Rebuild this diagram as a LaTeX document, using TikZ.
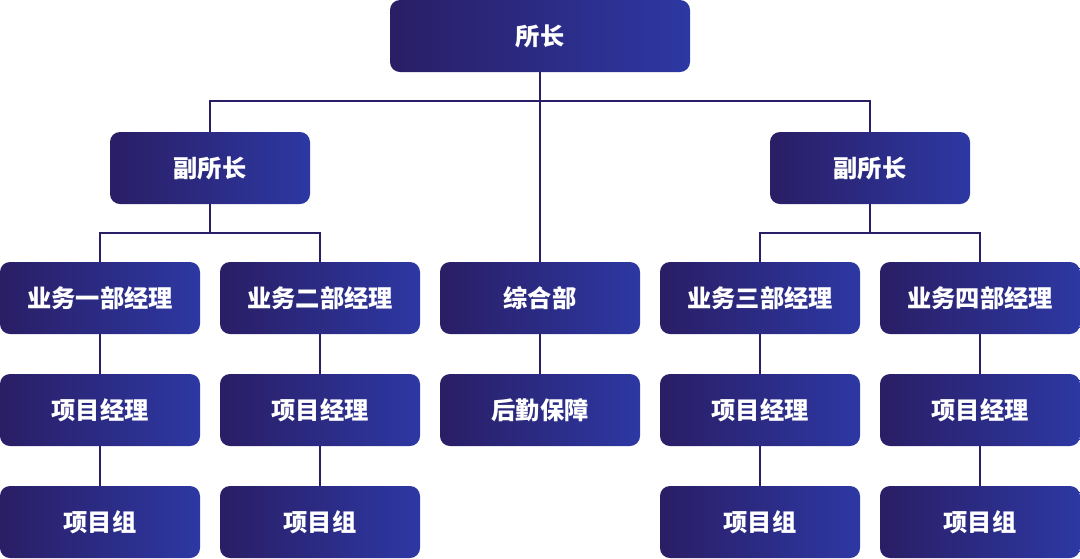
\documentclass[tikz,border=0pt]{standalone}
\usepackage{fontspec}
\setmainfont{Noto Sans CJK SC}
\definecolor{boxL}{HTML}{2A1E65}
\definecolor{boxR}{HTML}{2D38A3}
\definecolor{lineC}{HTML}{2A1F66}
\begin{document}
\begin{tikzpicture}[x=0.75pt,y=-0.75pt,
  box/.style={draw=none,rounded corners=7.5pt,left color=boxL,right color=boxR,
    shading angle=90,minimum width=150pt,minimum height=54pt,inner sep=0pt,
    text=white,font=\fontsize{18.2}{21}\selectfont\bfseries},
  topbox/.style={box,minimum width=225pt},
  conn/.style={draw=lineC,line width=1.5pt}]
\useasboundingbox (0,0) rectangle (1080,558);
\node[topbox] (top) at (540,36) {所长};
\node[box] (d1) at (210,168) {副所长};
\node[box] (d2) at (870,168) {副所长};
\node[box] (m1) at (100,298) {业务一部经理};
\node[box] (m2) at (320,298) {业务二部经理};
\node[box] (m3) at (540,298) {综合部};
\node[box] (m4) at (760,298) {业务三部经理};
\node[box] (m5) at (980,298) {业务四部经理};
\node[box] (p1) at (100,410) {项目经理};
\node[box] (p2) at (320,410) {项目经理};
\node[box] (p3) at (540,410) {后勤保障};
\node[box] (p4) at (760,410) {项目经理};
\node[box] (p5) at (980,410) {项目经理};
\node[box] (g1) at (100,522) {项目组};
\node[box] (g2) at (320,522) {项目组};
\node[box] (g4) at (760,522) {项目组};
\node[box] (g5) at (980,522) {项目组};
\draw[conn] (top.south) -- (m3.north);
\draw[conn] (d1.north) |- (540,101) -| (d2.north);
\draw[conn] (d1.south) -- ++(0,29) -| (m1.north);
\draw[conn] (d1.south) -- ++(0,29) -| (m2.north);
\draw[conn] (d2.south) -- ++(0,29) -| (m4.north);
\draw[conn] (d2.south) -- ++(0,29) -| (m5.north);
\draw[conn] (m1) -- (p1); \draw[conn] (p1) -- (g1);
\draw[conn] (m2) -- (p2); \draw[conn] (p2) -- (g2);
\draw[conn] (m3) -- (p3);
\draw[conn] (m4) -- (p4); \draw[conn] (p4) -- (g4);
\draw[conn] (m5) -- (p5); \draw[conn] (p5) -- (g5);
\end{tikzpicture}
\end{document}
